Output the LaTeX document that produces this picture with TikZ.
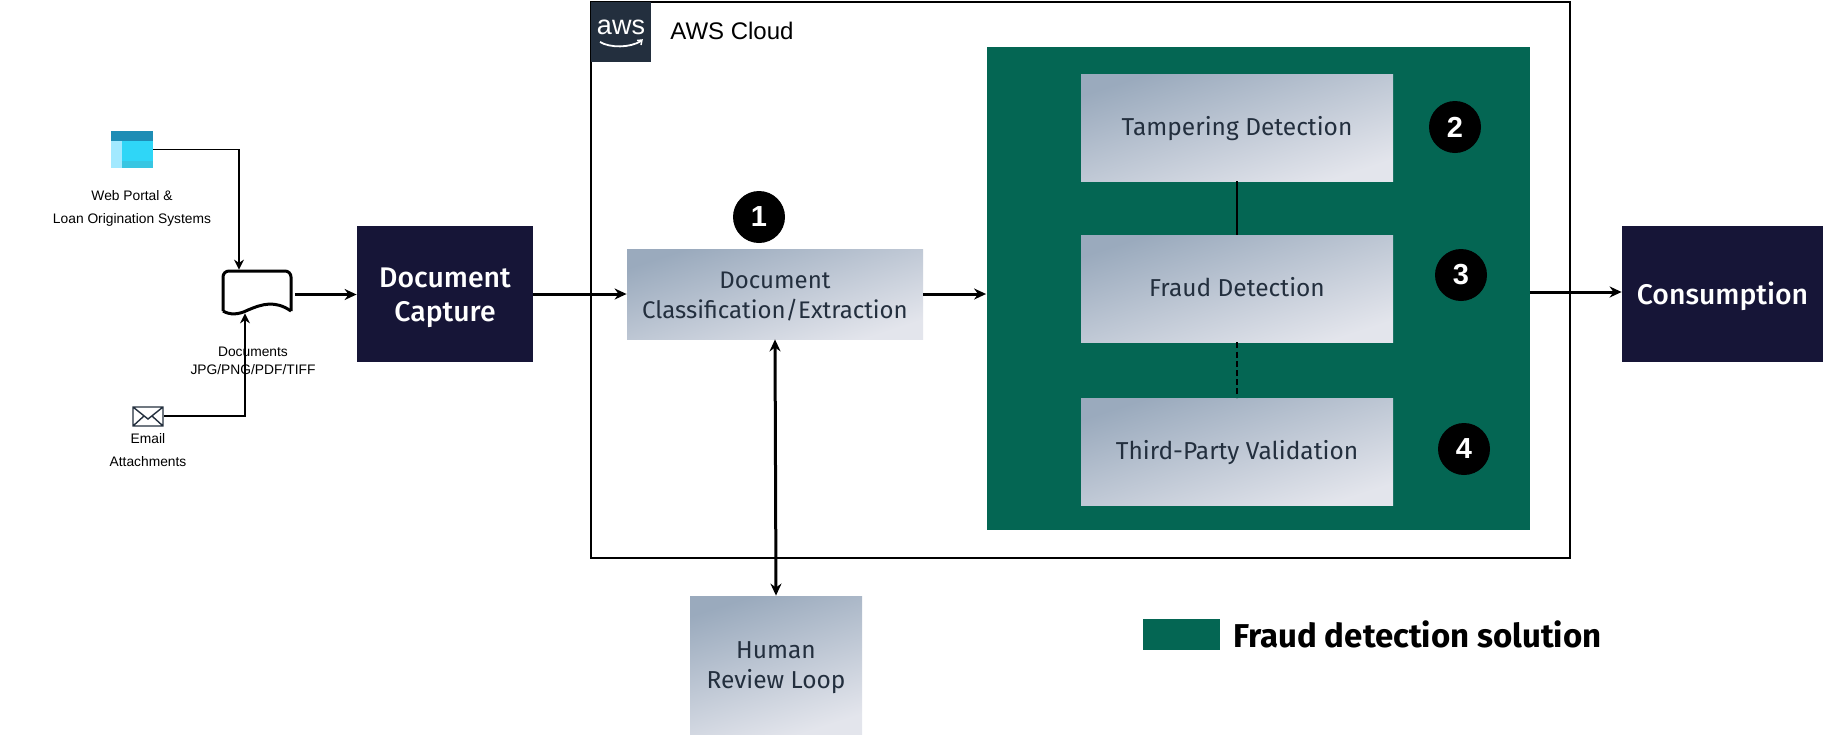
\documentclass[tikz,border=0pt]{standalone}
\usepackage{fontspec}
\usetikzlibrary{arrows.meta}
\setmainfont{Fira Sans}
\newfontfamily\mediumfont{Fira Sans Medium}
\newfontfamily\arialfont{Liberation Sans}
\definecolor{awsgreen}{HTML}{046653}
\definecolor{awsnavy}{HTML}{161537}
\definecolor{awsslate}{HTML}{232F3E}
\definecolor{gradstart}{HTML}{9AAABD}
\definecolor{gradend}{HTML}{E3E5EC}
\definecolor{webtop}{HTML}{1E8DB5}
\definecolor{webleft}{HTML}{A2E9FF}
\definecolor{webmain}{HTML}{2FD6F7}
\definecolor{webbase}{HTML}{38C6E2}
\tikzset{
  gradbox/.style={top color=gradstart,bottom color=gradend,shading angle=18,text=awsslate,
    inner sep=0pt,align=center,font=\fontsize{12.25}{15}\selectfont},
  navybox/.style={fill=awsnavy,text=white,inner sep=0pt,align=center,
    minimum width=88pt,minimum height=68pt,font=\mediumfont\fontsize{14.2}{17}\selectfont},
  badge/.style={circle,fill=black,text=white,inner sep=0pt,minimum size=26pt,
    font=\arialfont\bfseries\fontsize{14.5}{15}\selectfont},
  smalltext/.style={inner sep=0pt,align=center,font=\arialfont\fontsize{6.9}{11}\selectfont},
  iconbox/.style={inner sep=0pt},
  flow/.style={line width=1.5pt,-{Stealth[length=6pt,width=5.5pt]}},
  thinflow/.style={line width=0.6pt,-{Stealth[length=5pt,width=5pt]}}
}
\begin{document}
\begin{tikzpicture}[x=0.5pt,y=-0.5pt]
\useasboundingbox (0,0) rectangle (1826,734);
% cloud frame and logo
\draw[line width=1pt,fill=white] (590.5,1.5) rectangle (1569.5,557.5);
\node[fill=awsslate,minimum width=30pt,minimum height=30pt,inner sep=0pt] (logo) at (621,32) {};
\node[text=white,inner sep=0pt,font=\arialfont\fontsize{13.5}{14}\selectfont] (awstext) at (621,27) {aws};
\draw[white,line width=0.9pt] (600,42) .. controls (610,48) and (630,48) .. (641,41);
\draw[white,line width=0.7pt] (637,40.5) -- (642,40) -- (641,45);
\node[inner sep=0pt,anchor=west,font=\arialfont\fontsize{12}{14}\selectfont] (cloudlabel) at (670,31) {AWS Cloud};
% green solution panel
\node[fill=awsgreen,minimum width=271.5pt,minimum height=241.5pt,inner sep=0pt] (panel) at (1258,288.5) {};
\node[gradbox,text height=10pt,text depth=2.5pt,minimum width=156pt,minimum height=53.5pt] (tamper) at (1237,127.5) {Tampering Detection};
\node[gradbox,text height=10pt,text depth=2.5pt,minimum width=156pt,minimum height=53.5pt] (fraud) at (1237,288.5) {Fraud Detection};
\node[gradbox,text height=10pt,text depth=2.5pt,minimum width=156pt,minimum height=53.5pt] (third) at (1237,451.5) {Third-Party Validation};
\draw[line width=1.2pt] (tamper) -- (fraud);
\draw[line width=1.2pt,dash pattern=on 3pt off 1.6pt] (fraud) -- (third);
\node[badge] (two) at (1455,127) {2};
\node[badge] (three) at (1461,275) {3};
\node[badge] (four) at (1464,449) {4};
% main boxes
\node[navybox] (capture) at (445,294) {\rule{0pt}{13.4pt}Document\\Capture};
\node[navybox,text height=13pt,text depth=2.5pt,minimum width=100.5pt] (consume) at (1722.5,294) {Consumption};
\node[gradbox,font=\fontsize{12}{15}\selectfont,minimum width=148pt,minimum height=45pt] (classify) at (775,294) {\rule{0pt}{11pt}Document\\Classification/Extraction};
\node[gradbox,minimum width=86pt,minimum height=69pt] (human) at (776,665) {\rule{0pt}{11pt}Human\\Review Loop};
\node[badge] (one) at (759,217) {1};
% web portal icon
\node[iconbox,minimum width=21pt,minimum height=18.5pt] (web) at (132,149.5) {};
\fill[webleft] (111,141) rectangle (122,168);
\fill[webmain] (122,141) rectangle (153,168);
\fill[webbase] (122,161) rectangle (153,168);
\fill[webtop] (111,131) rectangle (153,141);
\node[smalltext] (weblabel) at (132,208) {Web Portal \&\\[0.5pt]Loan Origination Systems};
% email icon
\node[iconbox,minimum width=16pt,minimum height=10pt] (mail) at (148,416) {};
\draw[awsslate,line width=0.7pt] (133,407) rectangle (163,426) (133,407) -- (148,419) -- (163,407) (133,426) -- (144,416) (163,426) -- (152,416);
\node[smalltext] (maillabel) at (148,450) {Email\\[0.5pt]Attachments};
% document icon
\node[iconbox,minimum width=35pt,minimum height=21.5pt] (docs) at (257,291.5) {};
\draw[line width=1.5pt,rounded corners=3pt] (223,311) -- (223,271) -- (291,271) -- (291,311);
\draw[line width=1.5pt] (291,311) .. controls (275,300) and (262,304) .. (248,310) .. controls (238,315) and (230,315) .. (223,311);
\node[smalltext,font=\arialfont\fontsize{6.9}{9}\selectfont] (doclabel) at (253,361) {Documents\\JPG/PNG/PDF/TIFF};
% connectors
\draw[thinflow] (web.east) -| ([xshift=-9pt]docs.north);
\draw[thinflow] (mail.east) -| ([xshift=-6pt]docs.south);
\draw[flow] ([xshift=1.5pt,yshift=-1.5pt]docs.east) -- ([yshift=-1.5pt]docs.east -| capture.west);
\draw[flow] (capture.east) -- (classify.west);
\draw[flow] (classify.east) -- (classify.east -| panel.west);
\draw[flow] ([yshift=1pt]consume.west -| panel.east) -- ([yshift=1pt]consume.west);
\draw[flow,{Stealth[length=6pt,width=5.5pt]}-{Stealth[length=6pt,width=5.5pt]}] (classify.south) -- (human.north);
% legend
\node[fill=awsgreen,minimum width=38.5pt,minimum height=15.5pt,inner sep=0pt] (legendbox) at (1181.5,634) {};
\node[anchor=west,inner sep=0pt,font=\bfseries\fontsize{16.5}{18}\selectfont] (legendlabel) at (1233,634) {Fraud detection solution};
\end{tikzpicture}
\end{document}
